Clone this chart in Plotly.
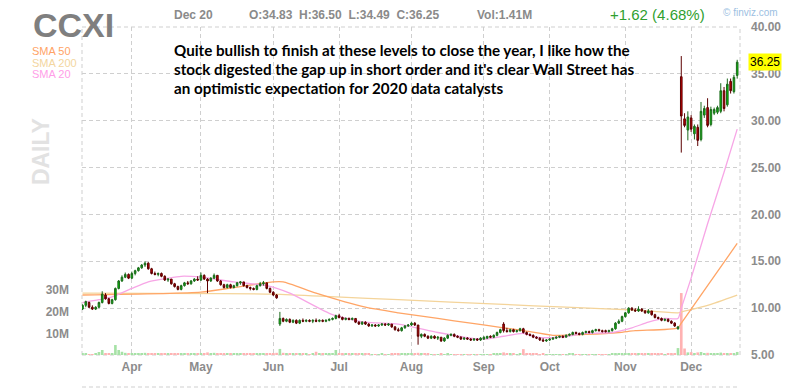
import pandas as pd
import plotly.graph_objects as go

# ---------------- data ----------------
ticker = "CCXI"
holidays = ["2019-04-19", "2019-05-27", "2019-07-04", "2019-09-02", "2019-11-28"]
dates = [d.strftime("%Y-%m-%d") for d in pd.bdate_range("2019-03-11", "2019-12-20")
         if d.strftime("%Y-%m-%d") not in holidays]

opens = [9.9, 10.3, 10.6, 10.1, 9.9, 10.1, 10.6, 11.4, 11.0, 10.5, 10.9, 12.1, 12.9, 13.3, 13.6,
         13.2, 13.7, 14.0, 14.3, 14.6, 14.8, 14.2, 13.7, 13.6, 13.7, 13.4, 13.0, 13.1, 12.6, 12.3, 12.0, 12.4, 12.7, 12.6, 12.9, 13.1,
         13.0, 13.5, 13.1, 12.9, 13.2, 13.5, 12.9, 12.5, 12.2, 12.5, 12.2, 12.4, 12.7, 12.8, 12.4, 12.2, 12.1, 12.0, 12.4, 12.6, 12.7, 12.1,
         11.7, 11.4, 8.3, 8.9, 8.6, 8.8, 8.5, 8.7, 8.4, 8.7, 8.6, 8.7, 8.6, 8.7, 8.6, 8.7, 8.6, 8.7, 8.8, 8.9,
         9.2, 9.0, 8.8, 8.9, 8.8, 8.9, 8.5, 8.3, 8.5, 8.3, 8.1, 8.2, 8.1, 8.2, 8.3, 8.2, 8.3, 8.0, 7.7, 7.6, 7.9, 8.1,
         8.2, 8.4, 8.2, 7.0, 7.2, 7.0, 6.8, 7.0, 6.8, 6.9, 6.5, 6.8, 7.1, 7.2, 7.0, 6.9, 6.7, 6.8, 6.7, 6.6, 6.7, 6.6,
         6.7, 6.8, 7.0, 6.9, 7.1, 7.4, 8.3, 7.6, 7.5, 7.7, 7.5, 7.6, 7.8, 7.4, 7.2, 7.1, 6.9, 6.8, 6.6, 6.5,
         6.6, 6.7, 6.8, 6.9, 7.0, 6.9, 7.1, 7.2, 7.4, 7.3, 7.2, 7.4, 7.5, 7.4, 7.6, 7.7, 7.6, 7.6, 7.5, 7.6, 7.8, 8.4, 8.6,
         9.1, 9.5, 10.0, 9.8, 9.7, 9.9, 9.7, 9.5, 9.7, 9.3, 9.0, 8.9, 8.7, 8.8, 8.6, 8.4, 7.8,
         34.7, 30.2, 29.0, 30.3, 28.6, 29.3, 28.0, 30.6, 31.4, 29.6, 30.8, 30.9, 31.0, 33.2, 31.7, 34.2, 33.1, 34.83]
highs = [10.4, 10.8, 10.7, 10.3, 10.2, 10.7, 11.8, 11.6, 11.1, 11.0, 12.2, 13.0, 13.5, 13.8, 13.7,
         13.9, 14.1, 14.4, 14.7, 15.0, 14.9, 14.3, 13.9, 13.8, 13.8, 13.5, 13.2, 13.1, 12.7, 12.4, 12.5, 12.8, 12.9, 13.0, 13.2, 13.4,
         13.8, 13.6, 13.2, 13.3, 13.7, 13.5, 13.0, 12.6, 12.6, 12.6, 12.5, 12.8, 12.9, 12.8, 12.5, 12.3, 12.2, 12.5, 12.8, 12.9, 12.7, 12.2,
         11.8, 11.5, 9.6, 9.0, 8.9, 8.9, 8.8, 8.8, 8.8, 8.9, 8.8, 8.8, 8.8, 8.9, 8.8, 8.8, 8.8, 8.9, 9.0, 9.3,
         9.4, 9.1, 9.0, 9.0, 9.0, 8.9, 8.6, 8.6, 8.6, 8.4, 8.3, 8.3, 8.3, 8.4, 8.4, 8.4, 8.3, 8.1, 7.9, 8.0, 8.2, 8.3,
         8.5, 8.5, 8.2, 7.3, 7.3, 7.1, 7.1, 7.1, 7.0, 6.9, 6.9, 7.2, 7.3, 7.3, 7.1, 7.0, 6.9, 6.9, 6.8, 6.8, 6.8, 6.9,
         7.0, 7.0, 7.1, 7.2, 7.5, 7.8, 8.5, 7.9, 7.8, 7.8, 7.7, 7.9, 7.9, 7.5, 7.3, 7.2, 7.0, 6.9, 6.8, 6.7,
         6.8, 6.9, 7.0, 7.0, 7.1, 7.2, 7.3, 7.5, 7.5, 7.4, 7.5, 7.6, 7.6, 7.7, 7.8, 7.8, 7.7, 7.7, 7.7, 7.9, 8.5, 8.8, 9.2,
         9.6, 10.1, 10.1, 10.0, 10.2, 10.0, 9.8, 9.9, 9.7, 9.4, 9.1, 9.0, 8.9, 8.9, 8.7, 8.5, 8.1,
         36.9, 30.8, 31.0, 30.6, 29.6, 29.6, 32.0, 31.6, 32.4, 31.5, 31.4, 31.6, 34.0, 33.6, 34.5, 34.5, 34.9, 36.50]
lows = [9.8, 10.1, 10.0, 9.8, 9.8, 10.0, 10.5, 10.9, 10.4, 10.4, 10.8, 12.0, 12.8, 13.2, 13.1,
        13.1, 13.5, 13.9, 14.2, 14.4, 14.1, 13.6, 13.5, 13.4, 13.3, 12.9, 12.8, 12.5, 12.2, 11.9, 11.9, 12.3, 12.5, 12.5, 12.8, 12.9,
        12.9, 13.0, 11.6, 12.8, 13.1, 12.8, 12.4, 12.1, 12.1, 12.1, 12.1, 12.3, 12.5, 12.3, 12.1, 11.9, 11.9, 11.9, 12.3, 12.4, 12.0, 11.6,
        11.3, 11.0, 8.1, 8.5, 8.5, 8.4, 8.4, 8.3, 8.3, 8.5, 8.5, 8.5, 8.4, 8.5, 8.5, 8.5, 8.5, 8.6, 8.7, 8.8,
        8.9, 8.7, 8.7, 8.7, 8.7, 8.4, 8.2, 8.2, 8.2, 8.0, 8.0, 8.0, 8.0, 8.1, 8.1, 8.1, 7.9, 7.6, 7.5, 7.5, 7.8, 8.0,
        8.1, 8.1, 6.1, 6.8, 6.9, 6.7, 6.7, 6.7, 6.6, 6.4, 6.4, 6.7, 7.0, 6.9, 6.8, 6.6, 6.6, 6.6, 6.5, 6.5, 6.5, 6.5,
        6.6, 6.7, 6.8, 6.8, 7.0, 7.3, 7.4, 7.4, 7.4, 7.4, 7.4, 7.5, 7.3, 7.1, 7.0, 6.8, 6.7, 6.5, 6.4, 6.4,
        6.5, 6.6, 6.7, 6.8, 6.8, 6.9, 7.0, 7.1, 7.2, 7.1, 7.1, 7.3, 7.3, 7.3, 7.5, 7.5, 7.4, 7.4, 7.4, 7.5, 7.7, 8.3, 8.5,
        9.0, 9.4, 9.7, 9.6, 9.6, 9.6, 9.4, 9.4, 9.2, 8.9, 8.8, 8.6, 8.6, 8.5, 8.3, 8.0, 7.7,
        26.6, 29.3, 27.9, 28.8, 28.0, 27.3, 27.8, 30.3, 29.3, 29.4, 30.6, 30.7, 30.8, 31.0, 31.5, 32.9, 32.9, 34.49]
closes = [10.3, 10.7, 10.1, 9.9, 10.1, 10.6, 11.5, 11.0, 10.5, 10.9, 12.1, 12.9, 13.3, 13.6, 13.2,
          13.7, 14.0, 14.3, 14.6, 14.8, 14.2, 13.7, 13.6, 13.7, 13.4, 13.0, 13.1, 12.6, 12.3, 12.0, 12.4, 12.7, 12.6, 12.9, 13.1, 13.0,
          13.5, 13.1, 12.9, 13.2, 13.5, 12.9, 12.5, 12.2, 12.5, 12.2, 12.4, 12.7, 12.8, 12.4, 12.2, 12.1, 12.0, 12.4, 12.6, 12.7, 12.1, 11.7,
          11.4, 11.1, 8.9, 8.6, 8.8, 8.5, 8.7, 8.4, 8.7, 8.6, 8.7, 8.6, 8.7, 8.6, 8.7, 8.6, 8.7, 8.8, 8.9, 9.2,
          9.0, 8.8, 8.9, 8.8, 8.9, 8.5, 8.3, 8.5, 8.3, 8.1, 8.2, 8.1, 8.2, 8.3, 8.2, 8.3, 8.0, 7.7, 7.6, 7.9, 8.1, 8.2,
          8.4, 8.2, 7.0, 7.2, 7.0, 6.8, 7.0, 6.8, 6.9, 6.5, 6.8, 7.1, 7.2, 7.0, 6.9, 6.7, 6.8, 6.7, 6.6, 6.7, 6.6, 6.8,
          6.9, 7.0, 6.9, 7.1, 7.4, 7.7, 7.6, 7.5, 7.7, 7.5, 7.6, 7.8, 7.4, 7.2, 7.1, 6.9, 6.8, 6.6, 6.5, 6.6,
          6.7, 6.8, 6.9, 7.0, 6.9, 7.1, 7.2, 7.4, 7.3, 7.2, 7.4, 7.5, 7.4, 7.6, 7.7, 7.6, 7.5, 7.5, 7.6, 7.8, 8.4, 8.6, 9.1,
          9.5, 10.0, 9.8, 9.7, 9.9, 9.7, 9.5, 9.7, 9.3, 9.0, 8.9, 8.7, 8.8, 8.6, 8.4, 8.1, 8.0,
          30.5, 29.5, 30.4, 29.1, 29.4, 27.9, 31.0, 31.3, 29.5, 31.2, 31.2, 31.4, 33.2, 31.3, 33.9, 33.2, 34.63, 36.25]
volumes_m = [0.5, 0.6, 0.4, 0.4, 0.5, 1.4, 2.3, 0.8, 0.6, 0.7, 4.6, 2.3, 1.5, 1.0, 0.8,
             0.8, 0.9, 0.7, 0.8, 1.0, 0.9, 0.7, 0.6, 0.5, 0.6, 0.6, 0.5, 0.6, 0.7, 0.6, 0.5, 0.6, 0.5, 0.5, 0.6, 0.5,
             0.7, 0.6, 1.2, 0.6, 1.0, 0.7, 0.6, 0.6, 0.5, 0.5, 0.5, 0.6, 0.5, 0.5, 0.5, 0.6, 0.5, 0.5, 0.6, 0.5, 0.7, 0.8,
             0.8, 1.0, 2.8, 1.0, 0.7, 0.6, 0.6, 0.5, 0.5, 0.5, 0.5, 0.4, 0.5, 1.5, 0.5, 0.5, 0.5, 0.6, 0.7, 2.3,
             0.8, 0.6, 0.5, 0.5, 0.5, 0.6, 0.6, 0.5, 0.5, 0.6, 0.4, 0.4, 0.4, 0.5, 0.4, 0.4, 0.6, 0.7, 0.6, 0.5, 0.5, 0.5,
             0.6, 0.5, 1.0, 0.6, 0.5, 0.5, 0.4, 0.4, 0.4, 0.5, 0.4, 0.5, 0.4, 0.4, 0.4, 0.4, 0.4, 0.4, 0.4, 0.4, 0.4, 0.4,
             0.4, 0.4, 0.4, 0.5, 0.5, 0.6, 1.2, 0.6, 0.5, 0.5, 0.4, 0.5, 2.7, 0.8, 0.5, 0.5, 0.5, 0.4, 0.5, 0.4,
             0.4, 0.4, 0.4, 0.4, 0.4, 0.4, 0.5, 0.5, 0.4, 0.4, 0.4, 0.4, 0.4, 0.4, 0.4, 0.4, 0.4, 0.4, 0.4, 0.5, 0.7, 0.6, 0.7,
             0.7, 0.8, 0.6, 0.5, 0.6, 0.5, 0.5, 0.5, 0.5, 0.6, 0.5, 0.5, 0.4, 0.5, 0.5, 0.6, 3.2,
             28.6, 3.0, 1.2, 1.3, 0.8, 1.2, 1.4, 0.9, 1.0, 0.9, 0.6, 0.6, 1.1, 0.8, 0.9, 0.8, 0.9, 1.41]

sma20_dates = ["2019-03-11", "2019-03-18", "2019-03-22", "2019-04-01", "2019-04-08", "2019-04-16", "2019-04-23",
               "2019-05-01", "2019-05-15", "2019-05-30", "2019-06-10", "2019-06-27", "2019-07-12", "2019-07-26",
               "2019-08-13", "2019-08-27", "2019-09-04", "2019-09-11", "2019-09-19", "2019-09-25", "2019-10-04",
               "2019-10-16", "2019-10-28", "2019-11-05", "2019-11-12", "2019-11-19", "2019-11-25", "2019-11-26",
               "2019-12-02", "2019-12-09", "2019-12-16", "2019-12-20"]
sma20_vals = [10.6, 10.9, 11.2, 12.1, 12.8, 13.2, 13.4, 13.3, 12.8, 12.4, 11.6, 9.3, 8.5, 8.3,
              7.4, 6.8, 6.7, 7.0, 7.3, 6.9, 6.9, 7.3, 7.4, 7.9, 8.5, 8.9, 8.9, 10.0, 13.2, 19.0, 24.5, 29.1]
sma50_dates = ["2019-03-11", "2019-05-01", "2019-05-15", "2019-06-03", "2019-06-06", "2019-06-20", "2019-07-12",
               "2019-07-26", "2019-08-13", "2019-08-27", "2019-09-11", "2019-09-19", "2019-10-02", "2019-10-16",
               "2019-10-30", "2019-11-06", "2019-11-25", "2019-11-26", "2019-12-02", "2019-12-09", "2019-12-20"]
sma50_vals = [11.4, 11.7, 12.2, 12.8, 12.8, 11.6, 10.1, 9.5, 8.9, 8.4, 7.9, 7.6, 7.1, 7.2, 7.4, 7.6, 7.9, 8.4,
              9.9, 12.4, 16.9]
sma200_dates = ["2019-03-11", "2019-06-03", "2019-06-28", "2019-07-26", "2019-09-11", "2019-10-08", "2019-11-06",
                "2019-11-25", "2019-11-26", "2019-12-09", "2019-12-20"]
sma200_vals = [11.6, 11.5, 11.2, 10.9, 10.4, 10.1, 9.8, 9.5, 9.6, 10.3, 11.4]

comment_lines = [
    "Quite bullish to finish at these levels to close the year, I like how the",
    "stock digested the gap up in short order and it's clear Wall Street has",
    "an optimistic expectation for 2020 data catalysts",
]

# ---------------- styling ----------------
W, H = 793, 390
L, R, T, B = 82, 742, 27, 355
def px(x):
    return (x - L) / (R - L)
def py(y):
    return (B - y) / (B - T)

GRID = "#cfcfcf"
DASH = "4px,3px"
AX_FONT = dict(family="Liberation Sans, Arial", size=12, color="#8c8c8c", weight="bold")

# trading-day position of each date (the axis is a trading-day axis, as on the original)
pos = {d: i for i, d in enumerate(dates)}
xs = [pos[d] for d in dates]

up = [c >= o for o, c in zip(opens, closes)]
vol_colors = ["#a6e2a6" if u else "#ffb2b2" for u in up]

month_ticks = []
prev = dates[0][:7]
for d in dates[1:]:
    if d[:7] != prev:
        month_ticks.append(d)
        prev = d[:7]
month_labels = [pd.Timestamp(d).strftime("%b") for d in month_ticks]

fig = go.Figure()
fig.add_trace(go.Bar(x=xs, y=volumes_m, marker=dict(color=vol_colors, line=dict(width=0)),
                     width=0.8, yaxis="y", hoverinfo="skip", showlegend=False))
for sd, sv, col in [(sma200_dates, sma200_vals, "#f4d49a"),
                    (sma50_dates, sma50_vals, "#ffa566"),
                    (sma20_dates, sma20_vals, "#f7a6e6")]:
    fig.add_trace(go.Scatter(x=[pos[d] for d in sd], y=sv, mode="lines", yaxis="y2",
                             line=dict(color=col, width=1.3, shape="spline", smoothing=0.6),
                             showlegend=False))
fig.add_trace(go.Candlestick(x=xs, open=opens, high=highs, low=lows, close=closes, yaxis="y3",
                             increasing=dict(fillcolor="#00c400", line=dict(color="#1d6a1d", width=1)),
                             decreasing=dict(fillcolor="#c80000", line=dict(color="#5c0000", width=1)),
                             whiskerwidth=0, showlegend=False))

fig.update_layout(
    width=W, height=H,
    margin=dict(l=L, r=W - R, t=T, b=H - B, pad=0),
    paper_bgcolor="white", plot_bgcolor="white",
    showlegend=False,
    font=dict(family="Liberation Sans, Arial"),
    xaxis=dict(range=[-0.15, len(dates) - 0.15], tickmode="array",
               tickvals=[pos[d] for d in month_ticks], ticktext=month_labels,
               showgrid=True, gridcolor=GRID, griddash=DASH, gridwidth=1, zeroline=False,
               showline=False, ticks="", tickfont=AX_FONT, ticklabelstandoff=3,
               rangeslider=dict(visible=False), fixedrange=True),
    yaxis=dict(range=[0, 151.4], side="left", tickmode="array", tickvals=[10, 20, 30],
               ticktext=["10M", "20M", "30M"], showgrid=False, zeroline=False, showline=False,
               ticks="", tickfont=AX_FONT, ticklabelstandoff=12),
    yaxis2=dict(range=[5, 40], side="right", overlaying="y", dtick=5, tick0=5, tickformat=".2f",
                showgrid=True, gridcolor=GRID, griddash=DASH, gridwidth=1, zeroline=False, showline=False,
                ticks="", tickfont=AX_FONT, ticklabelstandoff=10),
    yaxis3=dict(range=[5, 40], overlaying="y", visible=False),
)

# dashed frame
for x0, y0, x1, y1 in [(0, 0, 1, 0), (0, 1, 1, 1), (0, 0, 0, 1), (1, 0, 1, 1)]:
    fig.add_shape(type="line", xref="paper", yref="paper", x0=x0, y0=y0, x1=x1, y1=y1,
                  line=dict(color=GRID, width=1, dash=DASH), layer="below")
# top of next (cut) panel
fig.add_shape(type="line", xref="paper", yref="paper", x0=0, x1=1, y0=py(387), y1=py(387),
              line=dict(color=GRID, width=1, dash=DASH))

ann = []
def text(x, y, s, size, color, xanchor="left", bold=False, family="Liberation Sans, Arial", **kw):
    ann.append(dict(x=px(x), y=py(y), xref="paper", yref="paper", text=(f"<b>{s}</b>" if bold else s),
                    showarrow=False, xanchor=xanchor, yanchor="middle",
                    font=dict(family=family, size=size, color=color), **kw))

text(31, 25, ticker, 34, "#7f7f7f", bold=True)
text(30, 51, "SMA 50", 11, "#ffa366")
text(30, 62.5, "SMA 200", 11, "#f3d6a0")
text(30, 74, "SMA 20", 11, "#ff9ee8")
text(41, 152, "DAILY", 23, "#e2e2e2", xanchor="center", bold=True, textangle=-90)

last = len(dates) - 1
chg = closes[last] - closes[last - 1]
pct = chg / closes[last - 1] * 100
dlabel = pd.Timestamp(dates[last]).strftime("%b %d")
nb = "\u00a0\u00a0"
text(172, 15.5, dlabel, 12, "#8a8a8a", bold=True)
text(247, 15.5, f"O:{opens[last]:.2f}{nb}H:{highs[last]:.2f}{nb}L:{lows[last]:.2f}{nb}C:{closes[last]:.2f}",
     12, "#8a8a8a", bold=True)
text(476, 15.5, f"Vol:{volumes_m[last]:.2f}M", 12, "#8a8a8a", bold=True)
text(610, 15, f"{chg:+.2f} ({pct:.2f}%)", 15, "#2f9f2f")
text(723, 12.5, "\u00a9 finviz.com", 10, "#9cc0e2")

for i, line in enumerate(comment_lines):
    text(172, 50 + 19 * i, line, 15.2, "#000000", bold=True, family="Lato, Liberation Sans")

ann.append(dict(x=px(750), y=closes[last], xref="paper", yref="y2", text=f"{closes[last]:.2f}",
                showarrow=False, xanchor="left", yanchor="middle", bgcolor="#ffff00", borderpad=1,
                font=dict(family="Liberation Sans, Arial", size=12, color="#000000")))
fig.update_layout(annotations=ann)

fig.write_html("out.html")
